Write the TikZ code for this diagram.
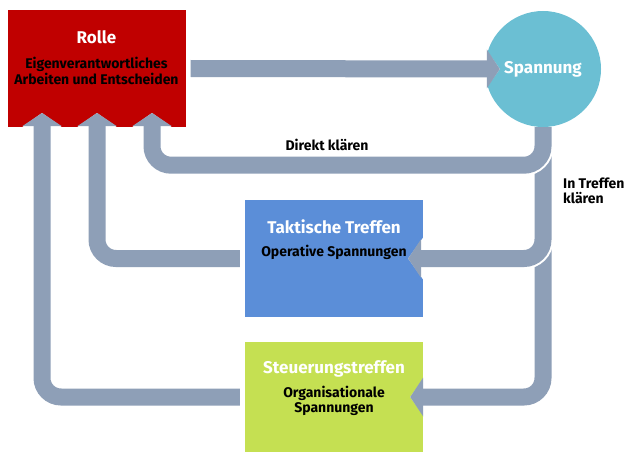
\documentclass[tikz,border=0pt]{standalone}
\usepackage{fontspec}
\setmainfont{Fira Sans}
\usetikzlibrary{arrows.meta, positioning}
\definecolor{rollered}{HTML}{C00000}
\definecolor{spannungteal}{HTML}{6BBFD3}
\definecolor{taktikblue}{HTML}{5B8ED8}
\definecolor{steuergreen}{HTML}{C5E052}
\definecolor{bandgray}{HTML}{8E9FB7}

\begin{document}
\begin{tikzpicture}[
    x=1pt, y=-1pt,
    box/.style={minimum width=178pt, inner sep=0pt},
    title/.style={font=\fontsize{17}{20}\selectfont\bfseries, text=white, inner sep=0pt},
    sub/.style={font=\fontsize{14}{15.5}\selectfont\bfseries, align=center, inner sep=0pt},
    lbl/.style={font=\fontsize{14}{14.5}\selectfont\bfseries, inner sep=0pt},
    casing/.style={draw=white, line width=21pt, rounded corners=19pt, -{Triangle[width=45pt, length=16pt, line width=0pt]}},
    band/.style={draw=bandgray, line width=17pt, rounded corners=19pt, -{Triangle[width=39pt, length=13pt, line width=0pt]}},
]
\useasboundingbox (0,0) rectangle (624,452);

% boxes
\node[box, fill=rollered, minimum height=117pt] (rolle) at (96.5,68.5) {};
\node[title, below=21pt of rolle.north] (rolletitle) {Rolle};
\node[sub, below=13pt of rolletitle] (rolletext) {Eigenverantwortliches\\Arbeiten und Entscheiden};
\node[circle, fill=spannungteal, minimum size=116pt, title] (spannung) at (543,69) {Spannung};
\node[box, fill=taktikblue, minimum height=117pt] (taktisch) at (334,258.5) {};
\node[title, below=20pt of taktisch.north] (taktischtitle) {Taktische Treffen};
\node[sub, below=11pt of taktischtitle] (taktischtext) {Operative Spannungen};
\node[box, fill=steuergreen, minimum height=110pt] (steuerung) at (334,397) {};
\node[title, below=19pt of steuerung.north] (steuerungtitle) {Steuerungstreffen};
\node[sub, below=8pt of steuerungtitle] (steuerungtext) {Organisationale\\Spannungen};

% labels
\node[lbl] (direkt) at (327,145) {Direkt klären};
\node[lbl, anchor=north west, align=left] (intreffen) at (563,178) {In Treffen\\klären};

% entry points into Rolle
\coordinate (inL) at (42,113);
\coordinate (inM) at (97,113);
\coordinate (inR) at (152,113);

% connectors
\draw[casing] ([xshift=5pt]rolle.east) -- ([xshift=15pt]spannung.west);
\draw[band] ([xshift=5pt]rolle.east) -- ([xshift=15pt]spannung.west);
\draw[casing] (spannung.south) |- ([xshift=-13pt]steuerung.east);
\draw[band] (spannung.south) |- ([xshift=-13pt]steuerung.east);
\draw[casing] (spannung.south) |- ([xshift=-15pt]taktisch.east);
\draw[band] (spannung.south) |- ([xshift=-15pt]taktisch.east);
\draw[casing] (spannung.south) -- ++(0,38) -| (inR);
\draw[band] (spannung.south) -- ++(0,38) -| (inR);
\draw[casing] ([xshift=-5pt]taktisch.west) -| (inM);
\draw[band] ([xshift=-5pt]taktisch.west) -| (inM);
\draw[casing] ([xshift=-5pt]steuerung.west) -| (inL);
\draw[band] ([xshift=-5pt]steuerung.west) -| (inL);
\end{tikzpicture}
\end{document}
